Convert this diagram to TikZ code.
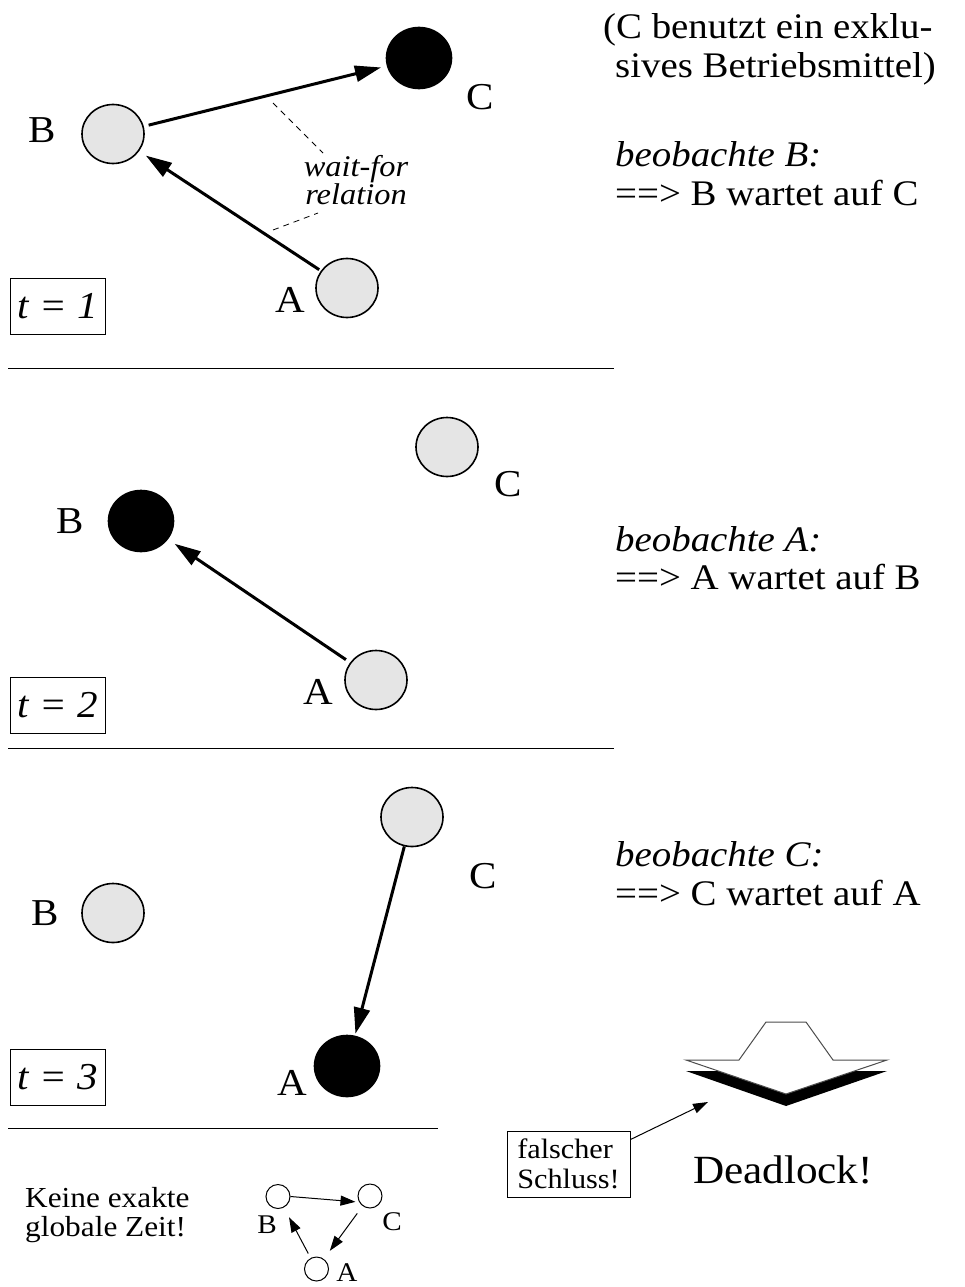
\documentclass[tikz,border=0pt]{standalone}
\usepackage{fontspec}
\setmainfont{Liberation Serif}[FakeStretch=1.08]
\usetikzlibrary{arrows.meta,shapes.geometric}
\begin{document}
\begin{tikzpicture}[x=1pt,y=-1pt,
  proc/.style={ellipse, draw, line width=1.6pt, minimum width=62pt, minimum height=59pt, inner sep=0pt},
  idle/.style={proc, fill=gray!20},
  busy/.style={proc, fill=black, minimum width=65pt, minimum height=61pt},
  lbl/.style={font=\fontsize{38}{42}\selectfont, inner sep=0pt},
  wf/.style={line width=3pt, -{Triangle[length=26pt,width=16pt]}, shorten <=5pt, shorten >=6pt},
  tbox/.style={draw, line width=1pt, minimum width=95pt, minimum height=56pt, inner sep=0pt, font=\fontsize{38}{40}\selectfont\itshape},
  note/.style={anchor=base west, inner sep=0pt, font=\fontsize{36}{39}\selectfont},
  sep/.style={line width=1pt},
  small/.style={circle, draw, line width=1pt, minimum size=24pt, inner sep=0pt},
  slbl/.style={font=\fontsize{27}{30}\selectfont, inner sep=0pt},
  sarr/.style={line width=1pt, -{Triangle[length=15pt,width=10pt]}},
  waitdash/.style={line width=0.8pt, dash pattern=on 6pt off 5pt}
]
\useasboundingbox (0,0) rectangle (964,1287);

% ---------------- panel 1 ----------------
\node[busy] (C1) at (419,58) {};
\node[idle] (B1) at (113,134) {};
\node[idle] (A1) at (347,288) {};
\node[lbl] (lC1) at (480,97) {C};
\node[lbl] (lB1) at (42,130) {B};
\node[lbl] (lA1) at (290,300) {A};
\draw[wf] (B1) -- (C1);
\draw[wf, shorten <=2pt, shorten >=8pt] (A1) -- (B1);
\node[tbox] (t1) at (57.5,306.5) {t = 1};
\node[align=center, inner sep=0pt, font=\fontsize{30}{26}\selectfont\itshape] (wfr) at (356,180) {wait-for\\relation};
\coordinate (d1a) at (273,103);
\coordinate (d1b) at (323,153);
\coordinate (d2a) at (273,230);
\coordinate (d2b) at (318,213);
\draw[waitdash] (d1a) -- (d1b);
\draw[waitdash] (d2a) -- (d2b);
\draw[sep] (8,368) -- (614,368);

\node[note, align=left] (excl) at (603,78) {(C benutzt ein exklu-\\\hspace*{12pt}sives Betriebsmittel)};
\node[note] (obsB) at (615,166) {\itshape beobachte B:};
\node[note] (resB) at (615,205) {==> B wartet auf C};

% ---------------- panel 2 ----------------
\node[idle] (C2) at (447,447) {};
\node[busy] (B2) at (141,521) {};
\node[idle] (A2) at (376,680) {};
\node[lbl] (lC2) at (508,484) {C};
\node[lbl] (lB2) at (70,521) {B};
\node[lbl] (lA2) at (318,692) {A};
\draw[wf, shorten >=8pt] (A2) -- (B2);
\node[tbox] (t2) at (57.5,705.5) {t = 2};
\draw[sep] (8,748) -- (614,748);
\node[note] (obsA) at (615,551) {\itshape beobachte A:};
\node[note] (resA) at (615,589) {==> A wartet auf B};

% ---------------- panel 3 ----------------
\node[idle] (C3) at (412,817) {};
\node[idle] (B3) at (113,913) {};
\node[busy] (A3) at (347,1066) {};
\node[lbl] (lC3) at (483,876) {C};
\node[lbl] (lB3) at (45,913) {B};
\node[lbl] (lA3) at (292,1083) {A};
\draw[wf, shorten <=0pt, shorten >=2pt] (C3) -- (A3);
\node[tbox] (t3) at (57.5,1077) {t = 3};
\draw[sep] (8,1128) -- (438,1128);
\node[note] (obsC) at (615,866) {\itshape beobachte C:};
\node[note] (resC) at (615,905) {==> C wartet auf A};

% ---------------- deadlock arrow ----------------
\fill[black] (686,1071) -- (887,1071) -- (786,1106) -- cycle;
\filldraw[fill=white, draw=gray!60!black, line width=1pt]
  (686,1060) -- (739,1060) -- (766,1022) -- (806,1022) -- (833,1060) -- (887,1060) -- (786,1094) -- cycle;
\node[inner sep=0pt, font=\fontsize{40}{44}\selectfont] (dl) at (783,1170) {Deadlock!};
\node[draw, line width=1pt, align=left, minimum width=123pt, minimum height=66pt, inner sep=0pt,
      font=\fontsize{28}{30}\selectfont] (fs) at (568.5,1164) {falscher\\Schluss!};
\coordinate (dlp) at (708,1102);
\draw[sarr] ([yshift=-9pt]fs.north east) -- (dlp);

% ---------------- bottom ----------------
\node[anchor=base west, inner sep=0pt, align=left, font=\fontsize{29}{29}\selectfont] (kg) at (25,1236) {Keine exakte\\globale Zeit!};
\node[small] (sB) at (278,1196.5) {};
\node[small] (sC) at (370,1196) {};
\node[small] (sA) at (316.5,1269) {};
\node[slbl] (lsB) at (267,1225) {B};
\node[slbl] (lsC) at (392,1222) {C};
\node[slbl] (lsA) at (347,1273) {A};
\draw[sarr, shorten >=2pt] (sB.east) -- ([yshift=-6pt]sC.west);
\draw[sarr, shorten <=9pt, shorten >=10pt] (sC) -- (sA);
\draw[sarr, shorten <=5pt, shorten >=11pt] (sA) -- (sB);
\end{tikzpicture}
\end{document}
